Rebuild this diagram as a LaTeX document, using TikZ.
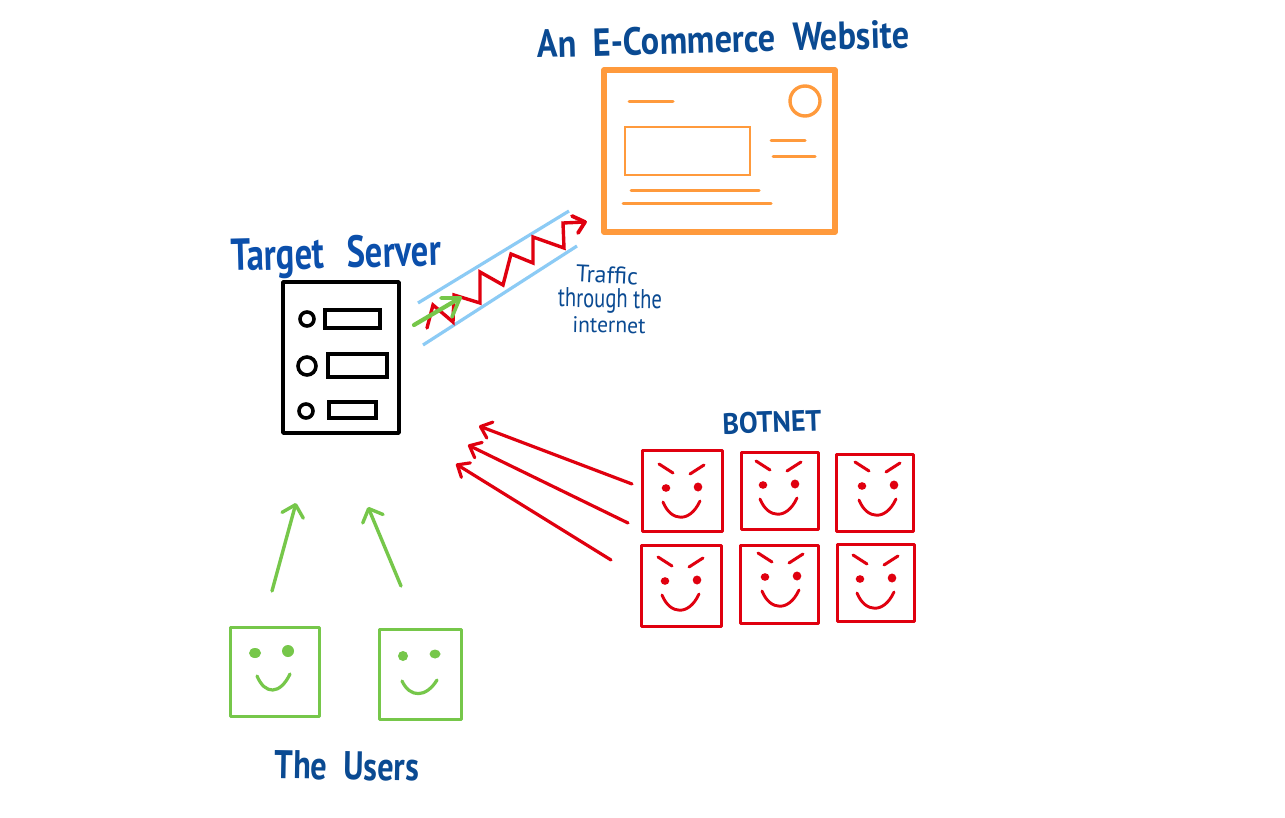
\documentclass[tikz,border=0pt]{standalone}
\usepackage{fontspec}
\setmainfont{PT Sans}
\usetikzlibrary{arrows.meta}
\definecolor{navy}{HTML}{0A4A92}
\definecolor{royal}{HTML}{0B4FAB}
\definecolor{amber}{HTML}{FF9A3C}
\definecolor{devil}{HTML}{E0000F}
\definecolor{leaf}{HTML}{76C74A}
\definecolor{sky}{HTML}{8CCBF5}
\tikzset{
  fit to/.style={inner sep=0pt,outer sep=0pt,anchor=center},
  bad/.style={draw=devil,line width=3pt,inner sep=0pt,outer sep=0pt,line join=round},
  good/.style={draw=leaf,line width=3pt,inner sep=0pt,outer sep=0pt,line join=round},
  stroke/.style={line width=#1,line cap=round,line join=round},
  stroke/.default=2.5pt,
  barb/.style={-{Straight Barb[length=11pt,width=22pt,line width=3.4pt,round]},line cap=round,line join=round},
  redbarb/.style={-{Straight Barb[length=10pt,width=17pt,line width=3.2pt,round]},line cap=round,line join=round}
}
\newcommand{\squarebox}[6]{\node[#1,minimum width=#4-#2,minimum height=#5-#3,anchor=north west] (#6) at (#2,#3) {};}
\newcommand{\evilface}[2]{%
  \begin{scope}[shift={(#1,#2)},draw=devil,fill=devil]
    \draw[stroke=3pt] (0,0) -- (14,9);
    \draw[stroke=3pt] (31,10) -- (45,1);
    \fill (7,24) ellipse (4.3 and 3.8);
    \fill (39,23) ellipse (4.3 and 4.5);
    \draw[stroke=2.9pt] (4,38) .. controls (12,58) and (31,59) .. (41,37);
  \end{scope}}
\begin{document}
\begin{tikzpicture}[x=1pt,y=-1pt]
\useasboundingbox (0,0) rectangle (1285,818);
\fill[white] (0,0) rectangle (1285,818);

% website
\squarebox{draw=amber,line width=5.4pt,line join=round,inner sep=0pt,outer sep=0pt}{604}{70}{835}{232}{site}
\node[draw=amber,line width=3.4pt,circle,minimum size=30pt,inner sep=0pt] (siteC) at (805,101) {};
\squarebox{draw=amber,line width=2.9pt,inner sep=0pt,outer sep=0pt}{625}{127}{750}{175}{siteR}
\draw[amber,stroke=3pt] (629,102) -- (673,102);
\draw[amber,stroke=3pt] (771,141) -- (805,141);
\draw[amber,stroke=3pt] (773,157) -- (815,157);
\draw[amber,stroke=3pt] (631,191) -- (759,191);
\draw[amber,stroke=3pt] (623,204) -- (771,204);

% server
\squarebox{draw=black,line width=3.8pt,line join=round,inner sep=0pt,outer sep=0pt}{283}{282}{399}{433}{server}
\foreach \n/\cx/\cy/\r in {a/307/319/7,b/307/366/9,c/306/411/7}{
  \node[draw=black,line width=3.6pt,circle,minimum size=2*\r*1pt,inner sep=0pt] (led\n) at (\cx,\cy) {};
}
\squarebox{draw=black,line width=3.4pt,inner sep=0pt,outer sep=0pt}{325}{310}{380}{328}{slotA}
\squarebox{draw=black,line width=3.4pt,inner sep=0pt,outer sep=0pt}{328}{354}{387}{377}{slotB}
\squarebox{draw=black,line width=3.4pt,inner sep=0pt,outer sep=0pt}{329}{402}{376}{418}{slotC}

% traffic
\draw[sky,line width=3.2pt] (418,303) -- (569,211);
\draw[sky,line width=3.2pt] (423,345) -- (577,246);
\draw[devil,line width=3.4pt,line join=miter,line cap=round]
  (427,328) -- (433,305) -- (453,322) -- (454,295) -- (480,303) -- (480,272) -- (503,285)
  -- (511,254) -- (533,263) -- (533,237) -- (564,248) -- (563,223) -- (585,222);
\draw[devil,stroke=3.8pt] (572,216) -- (585,222) -- (578,233);
\draw[leaf,stroke=4.2pt] (414,325) -- (460,298);
\draw[leaf,stroke=3.6pt] (441,298) -- (460,298) -- (452,317);

% users
\node[good,minimum width=89pt,minimum height=89pt,anchor=north west] (userA) at (230,627) {};
\node[good,minimum width=82pt,minimum height=90pt,anchor=north west] (userB) at (379,629) {};
\fill[leaf] (255,653) ellipse (6 and 5);
\fill[leaf] (288,651) ellipse (6 and 6);
\draw[leaf,stroke=3.2pt] (257,676) .. controls (265,695) and (280,695) .. (290,674);
\fill[leaf] (403,656) circle (5);
\fill[leaf] (435,654) ellipse (5.5 and 4.5);
\draw[leaf,stroke=3.2pt] (402,681) .. controls (410,698) and (426,698) .. (437,680);

\coordinate (ua) at (272,591);
\coordinate (uaT) at (296,503);
\coordinate (ub) at (401,586);
\coordinate (ubT) at (368,507);
\draw[leaf,line width=3.4pt,barb] (ua) -- (uaT);
\draw[leaf,line width=3.4pt,barb] (ub) -- (ubT);

% botnet
\node[bad,minimum width=80pt,minimum height=81pt,anchor=north west] (botA) at (642,450) {};
\node[bad,minimum width=77pt,minimum height=77pt,anchor=north west] (botB) at (741,452) {};
\node[bad,minimum width=77pt,minimum height=77pt,anchor=north west] (botC) at (836,454) {};
\node[bad,minimum width=80pt,minimum height=81pt,anchor=north west] (botD) at (641,545) {};
\node[bad,minimum width=78pt,minimum height=78pt,anchor=north west] (botE) at (740,545) {};
\node[bad,minimum width=77pt,minimum height=77pt,anchor=north west] (botF) at (837,544) {};
\evilface{659}{464}
\evilface{756}{461}
\evilface{855}{462}
\evilface{658}{557}
\evilface{758}{553}
\evilface{853}{555}

\coordinate (ra) at (632,484);
\coordinate (raT) at (479,426);
\coordinate (rb) at (628,523);
\coordinate (rbT) at (468,445);
\coordinate (rc) at (611,560);
\coordinate (rcT) at (456,464);
\draw[devil,line width=3.2pt,redbarb] (ra) -- (raT);
\draw[devil,line width=3.2pt,redbarb] (rb) -- (rbT);
\draw[devil,line width=3.2pt,redbarb] (rc) -- (rcT);

% labels
\node[fit to,text=navy,rotate=1.5] (tSite) at (723,39) {\resizebox{372pt}{28pt}{\bfseries An\hspace{.25em} E-Commerce\hspace{.25em} Website}};
\node[fit to,text=royal,rotate=1.5] (tServer) at (336,257) {\resizebox{210pt}{32pt}{\bfseries Target\hspace{.4em} Server}};
\node[fit to,text=navy,rotate=-3] (tT1) at (607,275) {\resizebox{62pt}{17pt}{Traffic}};
\node[fit to,text=navy,rotate=-1] (tT2) at (610,301) {\resizebox{104pt}{19pt}{through the}};
\node[fit to,text=navy,rotate=-1] (tT3) at (609,325) {\resizebox{73pt}{16pt}{internet}};
\node[fit to,text=navy,rotate=2] (tBot) at (772,422) {\resizebox{99pt}{21pt}{\bfseries BOTNET}};
\node[fit to,text=navy,rotate=-1] (tUsers) at (347,766) {\resizebox{144pt}{28pt}{\bfseries The\hspace{.25em} Users}};
\end{tikzpicture}
\end{document}
